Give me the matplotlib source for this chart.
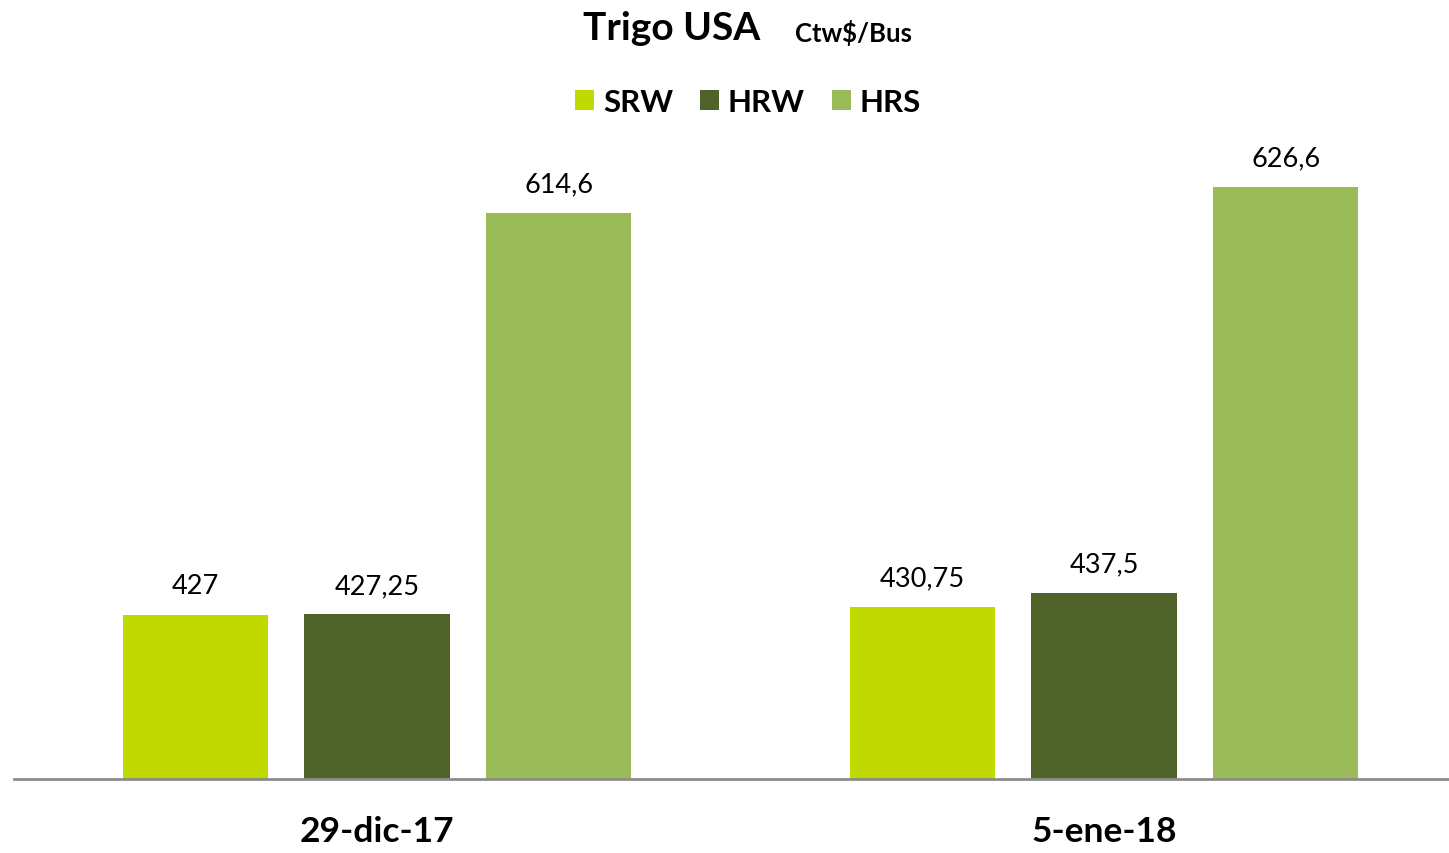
import matplotlib
matplotlib.use("Agg")
import matplotlib.pyplot as plt
from matplotlib.patches import Patch
import numpy as np

categories = ["29-dic-17", "5-ene-18"]
series_names = ["SRW", "HRW", "HRS"]
srw = [427, 430.75]
hrw = [427.25, 437.5]
hrs = [614.6, 626.6]
labels = [["427", "430,75"], ["427,25", "437,5"], ["614,6", "626,6"]]
colors = ["#C0D900", "#4F6228", "#9BBB59"]

FONT = "Lato"
W, H = 1449, 854
fig = plt.figure(figsize=(W / 100, H / 100), dpi=100)
ax = fig.add_axes([14 / W, 1 - 780 / H, (W - 14) / W, (780 - 138) / H])

x = np.arange(len(categories))
width = 0.2
step = 0.25
values = [srw, hrw, hrs]
for i, (vals, col) in enumerate(zip(values, colors)):
    pos = x + (i - 1) * step
    bars = ax.bar(pos, vals, width=width, color=col, zorder=2)
    for b, lab in zip(bars, labels[i]):
        ax.annotate(lab, (b.get_x() + b.get_width() / 2, b.get_height()),
                    xytext=(0, 12), textcoords="offset points",
                    ha="center", va="bottom", fontsize=19.5, family=FONT)

ax.set_ylim(350.5, 650)
ax.set_xlim(-363 / 727, (W - 14 - 363) / 727)
ax.set_xticks(x)
ax.set_xticklabels(categories, fontsize=25.5, fontweight="bold", family=FONT)
ax.tick_params(axis="x", length=0, pad=26)
ax.set_yticks([])
for s in ["top", "right", "left"]:
    ax.spines[s].set_visible(False)
ax.spines["bottom"].set_color("#8C8C8C")
ax.spines["bottom"].set_linewidth(2)

fig.text(583 / W, 1 - 28 / H, "Trigo USA", fontsize=28, fontweight="bold",
         family=FONT, ha="left", va="center")
fig.text(795 / W, 1 - 33 / H, "Ctw$/Bus", fontsize=18.5, fontweight="bold",
         family=FONT, ha="left", va="center")

handles = [Patch(facecolor=c, edgecolor="none") for c in colors]
leg = fig.legend(handles, series_names, loc="center", ncol=3,
                 bbox_to_anchor=(748 / W, 1 - 103 / H), frameon=False,
                 prop={"family": FONT, "weight": "bold", "size": 22.5},
                 handlelength=0.62, handleheight=0.62, handletextpad=0.28,
                 columnspacing=0.85)

fig.savefig("out.png", dpi=100)
